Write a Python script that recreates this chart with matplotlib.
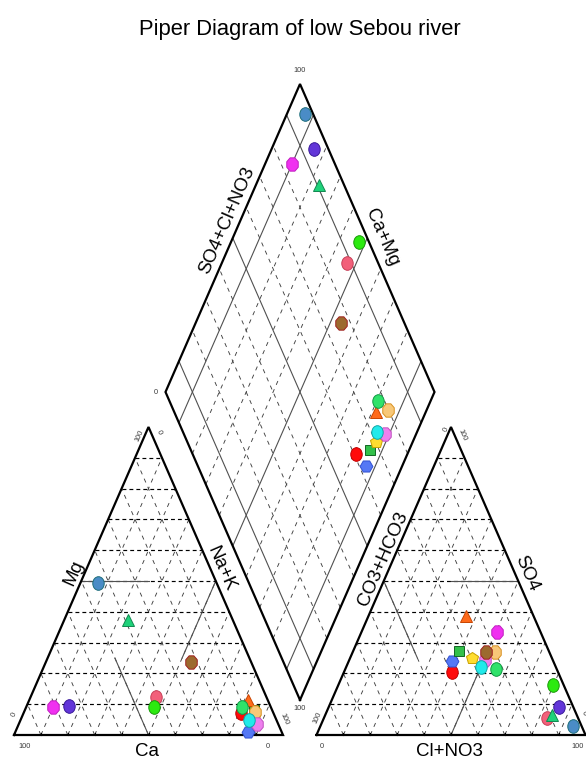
import numpy as np
import matplotlib
matplotlib.use("Agg")
import matplotlib.pyplot as plt
from matplotlib.path import Path
from matplotlib.markers import MarkerStyle
from matplotlib.transforms import Affine2D

plt.rcParams['font.family'] = ['Liberation Sans', 'DejaVu Sans']
plt.rcParams['lines.scale_dashes'] = False

# ---------------- data (meq %) ----------------
title = "Piper Diagram of low Sebou river"
# cations
ca = [12.2, 12.3, 6.8, 7.7, 7.2, 10.6, 6.6, 8.0, 10.1, 22.2, 80.9, 74.9, 41.0, 43.5, 39.1, 44.0]
mg = [7.0, 1.1, 8.0, 6.0, 11.4, 9.0, 7.6, 3.6, 4.9, 23.8, 9.0, 9.4, 12.4, 9.0, 37.3, 49.4]
na_k = [80.8, 86.6, 85.2, 86.3, 81.4, 80.4, 85.8, 88.4, 85.0, 54.0, 10.1, 15.7, 46.6, 47.5, 23.6, 6.6]
# anions
co3_hco3 = [39.4, 37.5, 33.5, 29.9, 25.1, 22.6, 20.2, 25.2, 27.9, 23.5, 16.0, 5.3, 11.5, 3.9, 9.3, 3.1]
so4 = [20.6, 24.1, 27.3, 24.9, 38.6, 21.3, 26.8, 24.4, 22.2, 27.0, 33.5, 9.2, 5.4, 16.2, 6.5, 2.9]
cl_no3 = [40.0, 38.4, 39.2, 45.2, 36.3, 56.1, 53.0, 50.4, 49.9, 49.5, 50.5, 85.5, 83.1, 79.9, 84.2, 94.0]
# symbol styles
face_colors = ['#FF0A0A', '#5578F5', '#33C04A', '#FFDD30', '#FF6A1A', '#30E26A', '#F8C878', '#EE80EE',
               '#22EAEA', '#9C6A2E', '#F030F0', '#6236D8', '#F2607A', '#2CEA10', '#1FD27A', '#4A8CC6']
edge_colors = ['#C00000', '#3050D0', '#116622', '#C8A000', '#C84400', '#119944', '#D89020', '#C050C0',
               '#10A8A8', '#A02020', '#C020C0', '#3A1A9A', '#C84058', '#1A9A0A', '#118850', '#1E6E7A']
shapes = ['ellipse', 'hexagon', 'square', 'pentagon', 'triangle', 'ellipse', 'octagon', 'octagon',
          'ellipse', 'octagon', 'octagon', 'ellipse', 'ellipse', 'ellipse', 'triangle', 'ellipse']
grid_levels = [10, 20, 30, 40, 50, 60, 70, 80, 90]
diamond_facies_levels = [10, 50, 90]

# ---------------- geometry (pixels) ----------------
W, H = 269.0, 308.0
L0 = (14.0, 735.0)      # cation triangle bottom-left
R0 = (316.5, 735.0)     # anion triangle bottom-left
DB = (300.0, 700.0)     # diamond bottom
DL = (165.5, 392.0)
DR = (434.5, 392.0)


def cat_xy(c, m, n):
    m, n = np.asarray(m, float) / 100, np.asarray(n, float) / 100
    return L0[0] + (n + m / 2) * W, L0[1] - m * H


def an_xy(h, s, c):
    s, c = np.asarray(s, float) / 100, np.asarray(c, float) / 100
    return R0[0] + (c + s / 2) * W, R0[1] - s * H


def dia_xy(cm, sc):
    cm, sc = np.asarray(cm, float) / 100, np.asarray(sc, float) / 100
    x = DB[0] + (DL[0] - DB[0]) * cm + (DR[0] - DB[0]) * sc
    y = DB[1] + (DL[1] - DB[1]) * cm + (DR[1] - DB[1]) * sc
    return x, y


fig = plt.figure(figsize=(5.86, 7.62), dpi=100)
ax = fig.add_axes([0, 0, 1, 1])
ax.set_xlim(0, 586)
ax.set_ylim(762, 0)
ax.axis('off')

dash_h = dict(color='black', lw=0.85, ls=(0, (2.8, 2.2)))
dash_s = dict(color='#404040', lw=0.65, ls=(0, (3.0, 3.4)))
solid = dict(color='#505050', lw=0.8)
outline = dict(color='black', lw=1.6, solid_joinstyle='miter')


def seg(fn, p, q, **kw):
    xs, ys = fn(*[[a, b] for a, b in zip(p, q)])
    ax.plot(xs, ys, **kw)


# grids in triangles and diamond
for k in grid_levels:
    j = 100 - k
    seg(cat_xy, (j, k, 0), (0, k, j), **dash_h)
    seg(cat_xy, (k, 0, j), (k, j, 0), **dash_s)
    seg(cat_xy, (j, 0, k), (0, j, k), **dash_s)
    seg(an_xy, (j, k, 0), (0, k, j), **dash_h)
    seg(an_xy, (k, 0, j), (k, j, 0), **dash_s)
    seg(an_xy, (j, 0, k), (0, j, k), **dash_s)
    if k not in diamond_facies_levels:
        seg(dia_xy, (k, 0), (k, 100), **dash_s)
        seg(dia_xy, (0, k), (100, k), **dash_s)

# facies lines in triangles
seg(cat_xy, (50, 50, 0), (25, 50, 25), **solid)
seg(cat_xy, (50, 0, 50), (50, 25, 25), **solid)
seg(cat_xy, (0, 50, 50), (25, 25, 50), **solid)
seg(an_xy, (0, 50, 50), (25, 50, 25), **solid)
seg(an_xy, (50, 0, 50), (25, 25, 50), **solid)
seg(an_xy, (50, 50, 0), (50, 25, 25), **solid)
# facies lines in diamond
for k in diamond_facies_levels:
    seg(dia_xy, (k, 0), (k, 100), **solid)
    seg(dia_xy, (0, k), (100, k), **solid)

# ticks on the bases
for k in grid_levels:
    for fn in (cat_xy, an_xy):
        x, y = fn(100 - k, 0, k)
        ax.plot([x, x], [y, y - 2.5], color='black', lw=0.8)

# outlines
xs, ys = cat_xy([100, 0, 0, 100], [0, 0, 100, 0], [0, 100, 0, 0])
ax.plot(xs, ys, **outline)
xs, ys = an_xy([100, 0, 0, 100], [0, 0, 100, 0], [0, 100, 0, 0])
ax.plot(xs, ys, **outline)
xs, ys = dia_xy([0, 100, 100, 0, 0], [0, 0, 100, 100, 0])
ax.plot(xs, ys, **outline)


# markers
def make_marker(shape):
    if shape == 'ellipse':
        p = Path.unit_circle()
        return MarkerStyle(p.transformed(Affine2D().scale(0.84, 1.0))), 9.8
    if shape == 'octagon':
        p = Path.unit_regular_polygon(8)
        p = p.transformed(Affine2D().rotate_deg(22.5).scale(0.86, 1.0))
        return MarkerStyle(p), 9.6
    if shape == 'hexagon':
        return 'H', 9.2
    if shape == 'pentagon':
        return 'p', 9.2
    if shape == 'triangle':
        return '^', 8.2
    if shape == 'square':
        return 's', 6.5
    return 'o', 9


cm = 100 - np.asarray(na_k)
sc = 100 - np.asarray(co3_hco3)
cx, cy = cat_xy(ca, mg, na_k)
axx, axy = an_xy(co3_hco3, so4, cl_no3)
dx, dy = dia_xy(cm, sc)
for i in range(len(ca)):
    mk, ms = make_marker(shapes[i])
    for X, Y in ((cx, cy), (axx, axy), (dx, dy)):
        ax.plot(X[i], Y[i], marker=mk, ms=ms, mfc=face_colors[i], mec=edge_colors[i],
                mew=0.7, ls='none', zorder=5)

# ---------------- text ----------------
ang_up = np.degrees(np.arctan2(H, W / 2))
tick_kw = dict(fontsize=5.3, color='#3a3a3a', ha='center', va='center')
x, y = cat_xy(100, 0, 0); ax.text(x + 11, y + 11, '100', **tick_kw)
x, y = cat_xy(0, 0, 100); ax.text(x - 15, y + 11, '0', **tick_kw)
x, y = cat_xy(100, 0, 0); ax.text(x + 0, y - 20, '0', rotation=ang_up, **tick_kw)
x, y = cat_xy(0, 100, 0); ax.text(x - 9, y + 9, '100', rotation=ang_up, **tick_kw)
x, y = cat_xy(0, 100, 0); ax.text(x + 10, y + 5, '0', rotation=-ang_up, **tick_kw)
x, y = cat_xy(0, 0, 100); ax.text(x + 1, y - 16, '100', rotation=-ang_up, **tick_kw)
x, y = an_xy(100, 0, 0); ax.text(x + 5, y + 11, '0', **tick_kw)
x, y = an_xy(0, 0, 100); ax.text(x - 8, y + 11, '100', **tick_kw)
x, y = an_xy(100, 0, 0); ax.text(x + 1, y - 17, '100', rotation=ang_up, **tick_kw)
x, y = an_xy(0, 100, 0); ax.text(x - 5, y + 3, '0', rotation=ang_up, **tick_kw)
x, y = an_xy(0, 100, 0); ax.text(x + 11, y + 8, '100', rotation=-ang_up, **tick_kw)
x, y = an_xy(0, 0, 100); ax.text(x - 2, y - 22, '0', rotation=-ang_up, **tick_kw)
x, y = dia_xy(100, 100); ax.text(x, y - 14, '100', **tick_kw)
x, y = dia_xy(100, 0); ax.text(x - 10, y, '0', **tick_kw)
x, y = dia_xy(0, 0); ax.text(x, y + 9, '100', **tick_kw)

lab_kw = dict(fontsize=13.5, color='black', ha='center', va='center')
ax.text(147.5, 752, 'Ca', **lab_kw)
ax.text(449.5, 752, 'Cl+NO3', **lab_kw)
ax.text(74, 573, 'Mg', rotation=ang_up, **lab_kw)
ax.text(221, 569, 'Na+K', rotation=-ang_up, **lab_kw)
ax.text(383, 559, 'CO3+HCO3', rotation=ang_up, **lab_kw)
ax.text(527, 573, 'SO4', rotation=-ang_up, **lab_kw)
ax.text(227, 220, 'SO4+Cl+NO3', rotation=ang_up, **lab_kw)
ax.text(382, 237, 'Ca+Mg', rotation=-ang_up, **lab_kw)

ax.text(300, 29, title, fontsize=15.8, ha='center', va='center', color='black')

fig.savefig('out.png', dpi=100)
